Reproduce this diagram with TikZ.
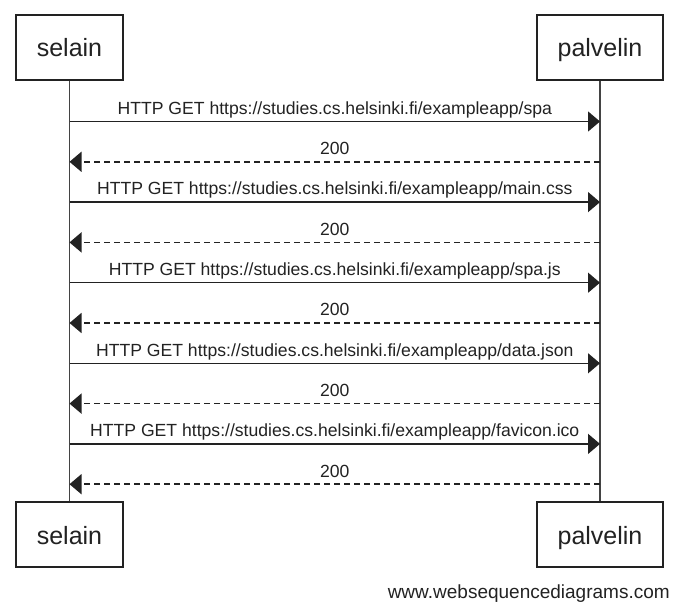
\documentclass[tikz,border=0pt]{standalone}
\usepackage{fontspec}
\setmainfont{Liberation Sans}
\usetikzlibrary{arrows.meta}
\definecolor{ink}{HTML}{222222}
\tikzset{
  actor/.style={draw=ink, line width=1.1pt, fill=white, minimum height=48.75pt, inner sep=0pt, text height=14.25pt, text depth=0pt, font=\fontsize{18.75}{20}\selectfont, text=ink},
  lifeline/.style={draw=ink!85, line width=1.1pt},
  req/.style={draw=ink, line width=1.1pt, -{Triangle[length=9pt,width=15pt]}},
  resp/.style={draw=ink, line width=1.1pt, dash pattern=on 4.5pt off 3pt, -{Triangle[length=9pt,width=15pt]}},
  msglabel/.style={anchor=base, yshift=5.4pt, inner sep=0pt, font=\fontsize{13.2}{15}\selectfont, text=ink},
}
\begin{document}
\begin{tikzpicture}[x=0.75pt,y=-0.75pt]
\useasboundingbox (0,0) rectangle (700,610);
\node[actor, minimum width=80.25pt] (s0) at (69.5,47.5) {selain};
\node[actor, minimum width=94.5pt] (p0) at (600,47.5) {palvelin};
\node[actor, minimum width=80.25pt] (s1) at (69.5,534.5) {selain};
\node[actor, minimum width=94.5pt] (p1) at (600,534.5) {palvelin};
\draw[lifeline] (s0.south) -- (s1.north);
\draw[lifeline] (p0.south) -- (p1.north);
\foreach \i/\y in {1/121.5,2/161.8,3/202.1,4/242.4,5/282.7,6/323,7/363.3,8/403.6,9/443.9,10/484.2}{
  \coordinate (a\i) at (69.5,\y);
  \coordinate (b\i) at (600,\y);
}
\draw[req] (a1) -- (b1) node[msglabel, midway] {HTTP GET https://studies.cs.helsinki.fi/exampleapp/spa};
\draw[resp] (b2) -- (a2) node[msglabel, midway] {200};
\draw[req] (a3) -- (b3) node[msglabel, midway] {HTTP GET https://studies.cs.helsinki.fi/exampleapp/main.css};
\draw[resp] (b4) -- (a4) node[msglabel, midway] {200};
\draw[req] (a5) -- (b5) node[msglabel, midway] {HTTP GET https://studies.cs.helsinki.fi/exampleapp/spa.js};
\draw[resp] (b6) -- (a6) node[msglabel, midway] {200};
\draw[req] (a7) -- (b7) node[msglabel, midway] {HTTP GET https://studies.cs.helsinki.fi/exampleapp/data.json};
\draw[resp] (b8) -- (a8) node[msglabel, midway] {200};
\draw[req] (a9) -- (b9) node[msglabel, midway] {HTTP GET https://studies.cs.helsinki.fi/exampleapp/favicon.ico};
\draw[resp] (b10) -- (a10) node[msglabel, midway] {200};
\node[anchor=base east, inner sep=0pt, font=\fontsize{14.25}{16}\selectfont, text=ink] (credit) at (670,598) {www.websequencediagrams.com};
\end{tikzpicture}
\end{document}
